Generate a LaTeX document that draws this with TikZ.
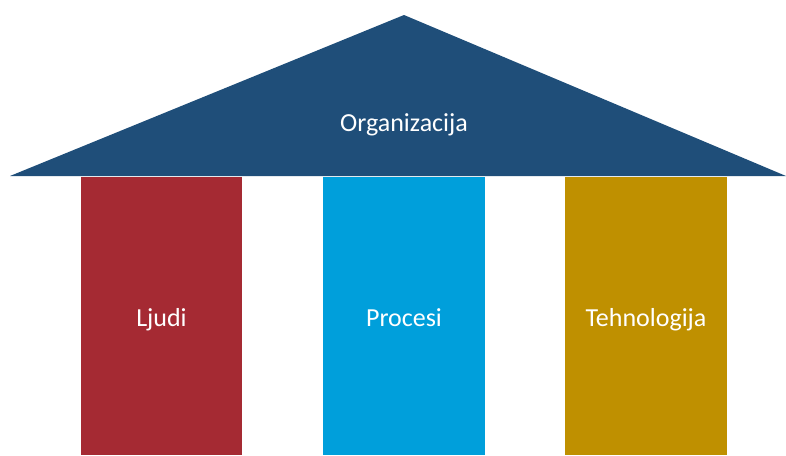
\documentclass[tikz,border=0pt]{standalone}
\usepackage{fontspec}
\setmainfont{Carlito}
\definecolor{roofc}{HTML}{1F4E79}
\definecolor{redc}{HTML}{A52A33}
\definecolor{bluec}{HTML}{009FDB}
\definecolor{goldc}{HTML}{BF9000}
\begin{document}
\begin{tikzpicture}[x=1pt,y=-1pt,
  lbl/.style={text=white,anchor=base,font=\fontsize{26}{30}\selectfont}]
\useasboundingbox (0,0) rectangle (786,455);
\fill[roofc] (10,176) -- (404,15) -- (786,176) -- cycle;
\fill[redc] (81,177) rectangle (242,455);
\fill[bluec] (323,177) rectangle (485,455);
\fill[goldc] (565,177) rectangle (727,455);
\node[lbl] (org) at (404,131) {Organizacija};
\node[lbl] (ljudi) at (161.5,326) {Ljudi};
\node[lbl] (procesi) at (404,326) {Procesi};
\node[lbl] (teh) at (646,326) {Tehnologija};
\end{tikzpicture}
\end{document}
